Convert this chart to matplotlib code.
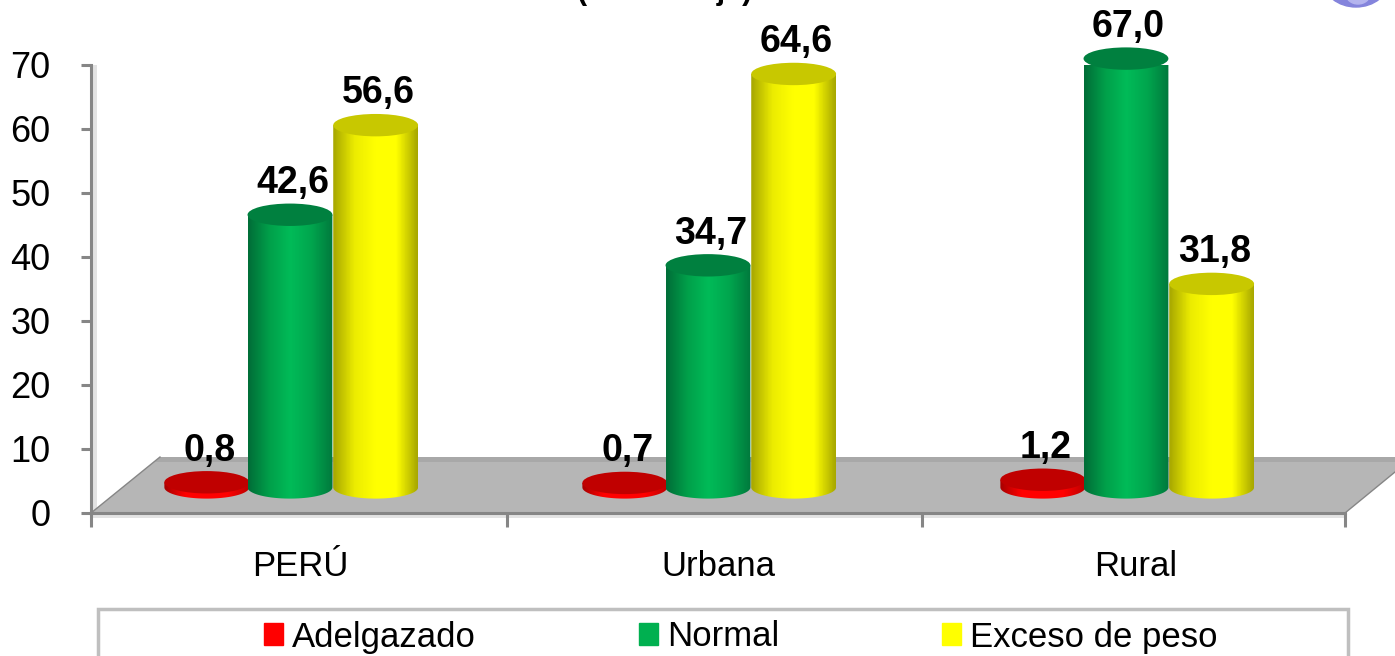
import matplotlib
matplotlib.use("Agg")
import matplotlib.pyplot as plt
import numpy as np
from matplotlib.colors import LinearSegmentedColormap
from matplotlib.patches import Ellipse, PathPatch, Polygon, Rectangle
from matplotlib.path import Path

plt.rcParams['font.family'] = ['Liberation Sans', 'DejaVu Sans']

# ---------------------------------------------------------
# Data
# ---------------------------------------------------------
categories = ['PERÚ', 'Urbana', 'Rural']
series_names = ['Adelgazado', 'Normal', 'Exceso de peso']
adelgazado = [0.8, 0.7, 1.2]
normal = [42.6, 34.7, 67.0]
exceso = [56.6, 64.6, 31.8]
y_ticks = [0, 10, 20, 30, 40, 50, 60, 70]

# ---------------------------------------------------------
# Style
# ---------------------------------------------------------
W, H = 1395, 656
AX_L, AX_R, AX_T, AX_B = 91, 1345, 65, 513
BASE = 4.0        # bars stand on the fake 3D floor
BAR_W = 0.203
CAP = 3.5         # cap ellipse height, data units
OFFSETS = [-0.223, -0.024, 0.181]
LEGEND_COL = ['#ff0000', '#00b050', '#ffff00']
TOP_COL = ['#c00000', '#00803f', '#c8c800']
BODY = [
    ['#a80000', '#ff0000', '#ff0000', '#ff0000', '#c00000'],
    ['#006e38', '#00a04a', '#00bb58', '#00a64e', '#007a3d'],
    ['#a8a800', '#ecec00', '#ffff00', '#ffff00', '#a8a800'],
]
GREY = '#868686'

fig = plt.figure(figsize=(W / 100, H / 100), dpi=100)

# pixel overlay for the clipped title, logo and legend box
bg = fig.add_axes([0, 0, 1, 1])
bg.set_xlim(0, W)
bg.set_ylim(H, 0)
bg.axis('off')
bg.text(665, -1.5, '(Porcentaje)', fontsize=22, fontweight='bold', ha='center', va='baseline')
bg.add_patch(Ellipse((1356, -20), 66, 54, color='#8484dc'))
bg.add_patch(Ellipse((1358, -6), 24, 20, color='#b4b4ee'))
bg.add_patch(Rectangle((98, 609), 1250, 60, fc='white', ec='#bfbfbf', lw=2.5))

ax = fig.add_axes([AX_L / W, 1 - AX_B / H, (AX_R - AX_L) / W, (AX_B - AX_T) / H])
ax.patch.set_alpha(0)
ax.set_xlim(0, 3)
ax.set_ylim(0, 70)
xu = (AX_R - AX_L) / 3
yu = (AX_B - AX_T) / 70


def px(x, y):
    return ((x - AX_L) / xu, (AX_B - y) / yu)


# wall strip, floor strip and floor
ax.add_patch(Polygon([px(91, 65), px(97, 65), px(97, 513), px(91, 513)], fc='#e3e3e3', ec='none', zorder=1))
ax.add_patch(Polygon([px(91, 513), px(1345, 513), px(1345, 518), px(91, 518)], fc='#e3e3e3', ec='none',
                     clip_on=False, zorder=1))
ax.add_patch(Polygon([px(91, 513), px(160, 457), px(1395, 457), px(1395, 472), px(1345, 513)],
                     fc='#b6b6b6', ec='none', clip_on=False, zorder=2))
ax.add_patch(Polygon([px(160, 457), px(1395, 457), px(1395, 462), px(155, 462)],
                     fc='#a8a8a8', ec='none', clip_on=False, zorder=2))
ax.plot(*zip(px(91, 513), px(160, 457)), color=GREY, lw=1, clip_on=False, zorder=2)
ax.plot(*zip(px(1345, 513), px(1395, 472)), color=GREY, lw=1, clip_on=False, zorder=2)


def draw_bar(x, value, s, z):
    x0, x1 = x - BAR_W / 2, x + BAR_W / 2
    top = BASE + value
    t = np.linspace(np.pi, 2 * np.pi, 40)
    arc = np.column_stack([x + BAR_W / 2 * np.cos(t), BASE + CAP / 2 * np.sin(t)])
    verts = np.vstack([[[x0, top]], arc, [[x1, top]], [[x0, top]]])
    cmap = LinearSegmentedColormap.from_list('c%d' % s, BODY[s])
    im = ax.imshow(np.linspace(0, 1, 60)[None, :], cmap=cmap, aspect='auto',
                   extent=(x0, x1, BASE - CAP, top), zorder=z, clip_on=True)
    im.set_clip_path(PathPatch(Path(verts), transform=ax.transData))
    ax.add_patch(Ellipse((x, top), BAR_W, CAP, fc=TOP_COL[s], ec='none', zorder=z, clip_on=False))


all_series = [adelgazado, normal, exceso]
for s, values in enumerate(all_series):
    for i, v in enumerate(values):
        x = i + 0.5 + OFFSETS[s]
        draw_bar(x, v, s, 3 + s)
        # data labels use a decimal comma
        ax.text(x + 0.006, BASE + v + 3.4, ('%.1f' % v).replace('.', ','), fontsize=27, fontweight='bold',
                ha='center', va='baseline', zorder=10, clip_on=False)

ax.set_xlim(0, 3)
ax.set_ylim(0, 70)

# axes
for name in ['top', 'right']:
    ax.spines[name].set_visible(False)
for name in ['left', 'bottom']:
    ax.spines[name].set_color(GREY)
    ax.spines[name].set_linewidth(2.2)
    ax.spines[name].set_zorder(3)
ax.set_yticks(y_ticks)
ax.tick_params(axis='y', length=7, width=2.2, color=GREY, labelsize=26, pad=22)
ax.set_xticks([0, px(507, 0)[0], px(922, 0)[0], 3])
ax.set_xticklabels([])
ax.tick_params(axis='x', length=10, width=2.2, color=GREY)
ax.set_xticks([0.5, 1.5, 2.5], minor=True)
ax.set_xticklabels(categories, minor=True, fontsize=25)
ax.tick_params(axis='x', which='minor', length=0, pad=27)

# legend, box is drawn on the overlay
handles = [Rectangle((0, 0), 1, 1, color=c) for c in LEGEND_COL]
bg.legend(handles, series_names, ncol=3, frameon=False, fontsize=25,
          loc='center left', bbox_to_anchor=(264 / W, 1 - 637 / H),
          bbox_transform=fig.transFigure, handlelength=0.55, handleheight=0.58,
          handletextpad=0.25, columnspacing=4.7, borderpad=0, borderaxespad=0)

fig.savefig('out.png', dpi=100)
